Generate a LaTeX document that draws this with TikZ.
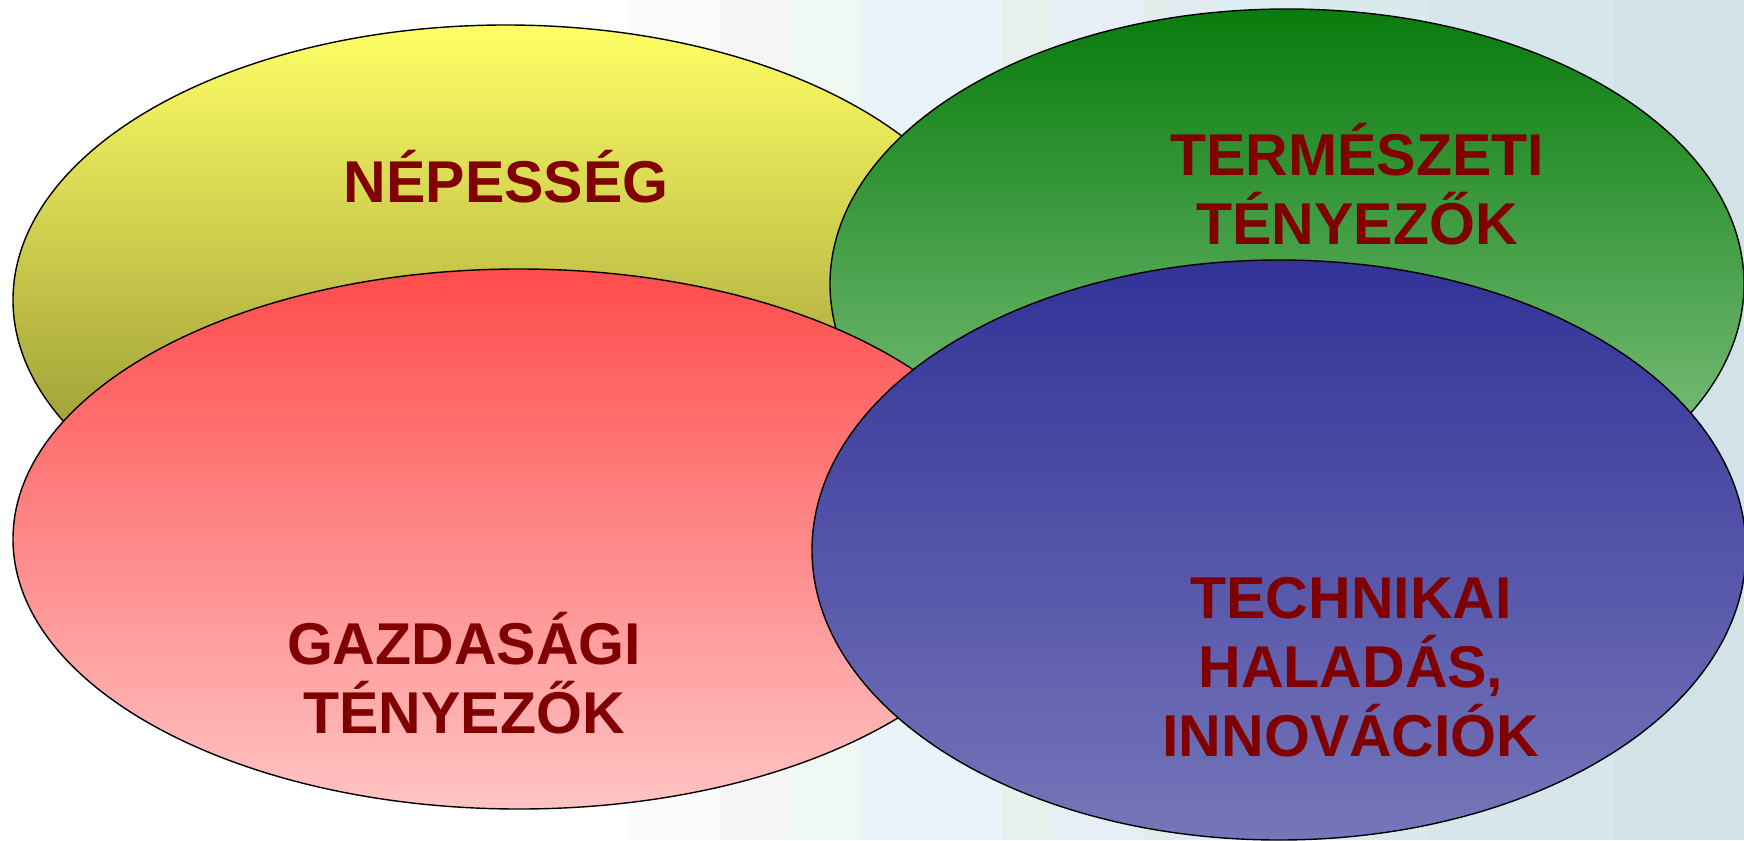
\documentclass[tikz,border=0pt]{standalone}
\usepackage{fontspec}
\setmainfont{Liberation Sans}
\usetikzlibrary{shapes.geometric}
\definecolor{lbl}{HTML}{800000}
\tikzset{
  blob/.style={ellipse, draw=black, line width=1.4pt, inner sep=0pt},
  lab/.style={text=lbl, align=center, font=\fontsize{59}{69}\selectfont\bfseries, inner sep=0pt},
  stripe/.style={draw=none}
}
\begin{document}
\begin{tikzpicture}[x=1pt,y=-1pt]
\useasboundingbox (0,0) rectangle (1744,840);
\clip (0,0) rectangle (1744,840);
% background stripes
\fill[white] (0,0) rectangle (1744,840);
\fill[color={rgb,255:red,250;green,250;blue,250}] (627,0) rectangle (721,840);
\fill[color={rgb,255:red,245;green,245;blue,245}] (721,0) rectangle (788,840);
\fill[color={rgb,255:red,240;green,248;blue,244}] (788,0) rectangle (861,840);
\fill[color={rgb,255:red,235;green,243;blue,250}] (861,0) rectangle (1002,840);
\fill[color={rgb,255:red,232;green,240;blue,236}] (1002,0) rectangle (1050,840);
\fill[color={rgb,255:red,231;green,238;blue,245}] (1050,0) rectangle (1143,840);
\fill[color={rgb,255:red,227;green,236;blue,232}] (1143,0) rectangle (1166,840);
\fill[color={rgb,255:red,227;green,235;blue,242}] (1166,0) rectangle (1211,840);
\fill[color={rgb,255:red,223;green,238;blue,242}] (1211,0) rectangle (1309,840);
\fill[color={rgb,255:red,218;green,233;blue,236}] (1309,0) rectangle (1426,840);
\fill[color={rgb,255:red,214;green,230;blue,234}] (1426,0) rectangle (1614,840);
\fill[color={rgb,255:red,210;green,226;blue,231}] (1614,0) rectangle (1744,840);
% ellipses
\node[blob, minimum width=986pt, minimum height=550pt,
  top color={rgb,255:red,255;green,255;blue,102}, bottom color={rgb,255:red,128;green,128;blue,40}]
  (yel) at (506,300) {};
\node[blob, minimum width=914pt, minimum height=550pt,
  top color={rgb,255:red,8;green,124;blue,12}, bottom color={rgb,255:red,150;green,206;blue,150}]
  (grn) at (1287,284) {};
\node[blob, minimum width=1012pt, minimum height=540pt,
  top color={rgb,255:red,255;green,76;blue,76}, bottom color={rgb,255:red,255;green,196;blue,196}]
  (red) at (519,539) {};
\node[blob, minimum width=934pt, minimum height=580pt,
  top color={rgb,255:red,50;green,50;blue,152}, bottom color={rgb,255:red,118;green,118;blue,186}]
  (blu) at (1279,550) {};
% labels
\node[lab] (t1) at (506,177) {NÉPESSÉG};
\node[lab] (t2) at (1357,184) {TERMÉSZETI\\TÉNYEZŐK};
\node[lab] (t3) at (464,673) {GAZDASÁGI\\TÉNYEZŐK};
\node[lab] (t4) at (1351,667) {TECHNIKAI\\HALADÁS,\\INNOVÁCIÓK};
\end{tikzpicture}
\end{document}
